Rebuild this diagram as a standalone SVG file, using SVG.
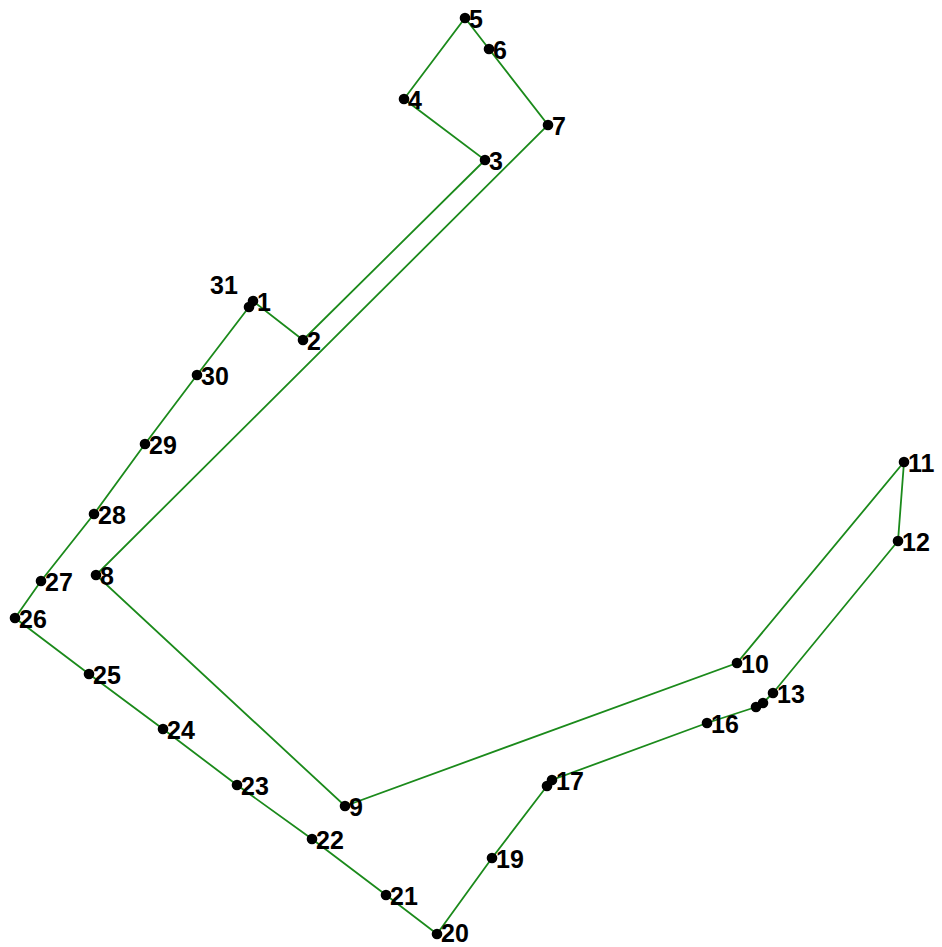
<svg xmlns="http://www.w3.org/2000/svg" width="942" height="947" viewBox="0 0 942 947">
<style>
.e{fill:none;stroke:#1b8a1b;stroke-width:1.8}
.d{fill:#000}
text{font-family:"Liberation Sans",Arial,sans-serif;font-size:25px;font-weight:bold;fill:#000}
</style>
<rect width="942" height="947" fill="#fff"/>
<g id="connectors">
<polyline class="e" points="253,301 303,340 485,160 404,99 465,18 489,49 548,125 96,575 345,806 737,663 904,462 898,541 773,693 763,703 756,707 707,723 552,780 547,786 492,858 437,934 386,895 312,839 237,785 163,729 89,674 15,618 41,581 94,514 145,444 197,375 249,307 253,301"/>
</g>
<g id="n1"><circle class="d" cx="253" cy="301" r="5.3"/><text x="257" y="311">1</text></g>
<g id="n2"><circle class="d" cx="303" cy="340" r="5.3"/><text x="307" y="350">2</text></g>
<g id="n3"><circle class="d" cx="485" cy="160" r="5.3"/><text x="489" y="170">3</text></g>
<g id="n4"><circle class="d" cx="404" cy="99" r="5.3"/><text x="408" y="109">4</text></g>
<g id="n5"><circle class="d" cx="465" cy="18" r="5.3"/><text x="469" y="28">5</text></g>
<g id="n6"><circle class="d" cx="489" cy="49" r="5.3"/><text x="493" y="59">6</text></g>
<g id="n7"><circle class="d" cx="548" cy="125" r="5.3"/><text x="552" y="135">7</text></g>
<g id="n8"><circle class="d" cx="96" cy="575" r="5.3"/><text x="100" y="585">8</text></g>
<g id="n9"><circle class="d" cx="345" cy="806" r="5.3"/><text x="349" y="816">9</text></g>
<g id="n10"><circle class="d" cx="737" cy="663" r="5.3"/><text x="741" y="673">10</text></g>
<g id="n11"><circle class="d" cx="904" cy="462" r="5.3"/><text x="908" y="472">11</text></g>
<g id="n12"><circle class="d" cx="898" cy="541" r="5.3"/><text x="902" y="551">12</text></g>
<g id="n13"><circle class="d" cx="773" cy="693" r="5.3"/><text x="777" y="703">13</text></g>
<g id="n14"><circle class="d" cx="763" cy="703" r="5.3"/></g>
<g id="n15"><circle class="d" cx="756" cy="707" r="5.3"/></g>
<g id="n16"><circle class="d" cx="707" cy="723" r="5.3"/><text x="711" y="733">16</text></g>
<g id="n17"><circle class="d" cx="552" cy="780" r="5.3"/><text x="556" y="790">17</text></g>
<g id="n18"><circle class="d" cx="547" cy="786" r="5.3"/></g>
<g id="n19"><circle class="d" cx="492" cy="858" r="5.3"/><text x="496" y="868">19</text></g>
<g id="n20"><circle class="d" cx="437" cy="934" r="5.3"/><text x="441" y="942">20</text></g>
<g id="n21"><circle class="d" cx="386" cy="895" r="5.3"/><text x="390" y="905">21</text></g>
<g id="n22"><circle class="d" cx="312" cy="839" r="5.3"/><text x="316" y="849">22</text></g>
<g id="n23"><circle class="d" cx="237" cy="785" r="5.3"/><text x="241" y="795">23</text></g>
<g id="n24"><circle class="d" cx="163" cy="729" r="5.3"/><text x="167" y="739">24</text></g>
<g id="n25"><circle class="d" cx="89" cy="674" r="5.3"/><text x="93" y="684">25</text></g>
<g id="n26"><circle class="d" cx="15" cy="618" r="5.3"/><text x="19" y="628">26</text></g>
<g id="n27"><circle class="d" cx="41" cy="581" r="5.3"/><text x="45" y="591">27</text></g>
<g id="n28"><circle class="d" cx="94" cy="514" r="5.3"/><text x="98" y="524">28</text></g>
<g id="n29"><circle class="d" cx="145" cy="444" r="5.3"/><text x="149" y="454">29</text></g>
<g id="n30"><circle class="d" cx="197" cy="375" r="5.3"/><text x="201" y="385">30</text></g>
<g id="n31"><circle class="d" cx="249" cy="307" r="5.3"/><text x="210" y="294">31</text></g>
</svg>
